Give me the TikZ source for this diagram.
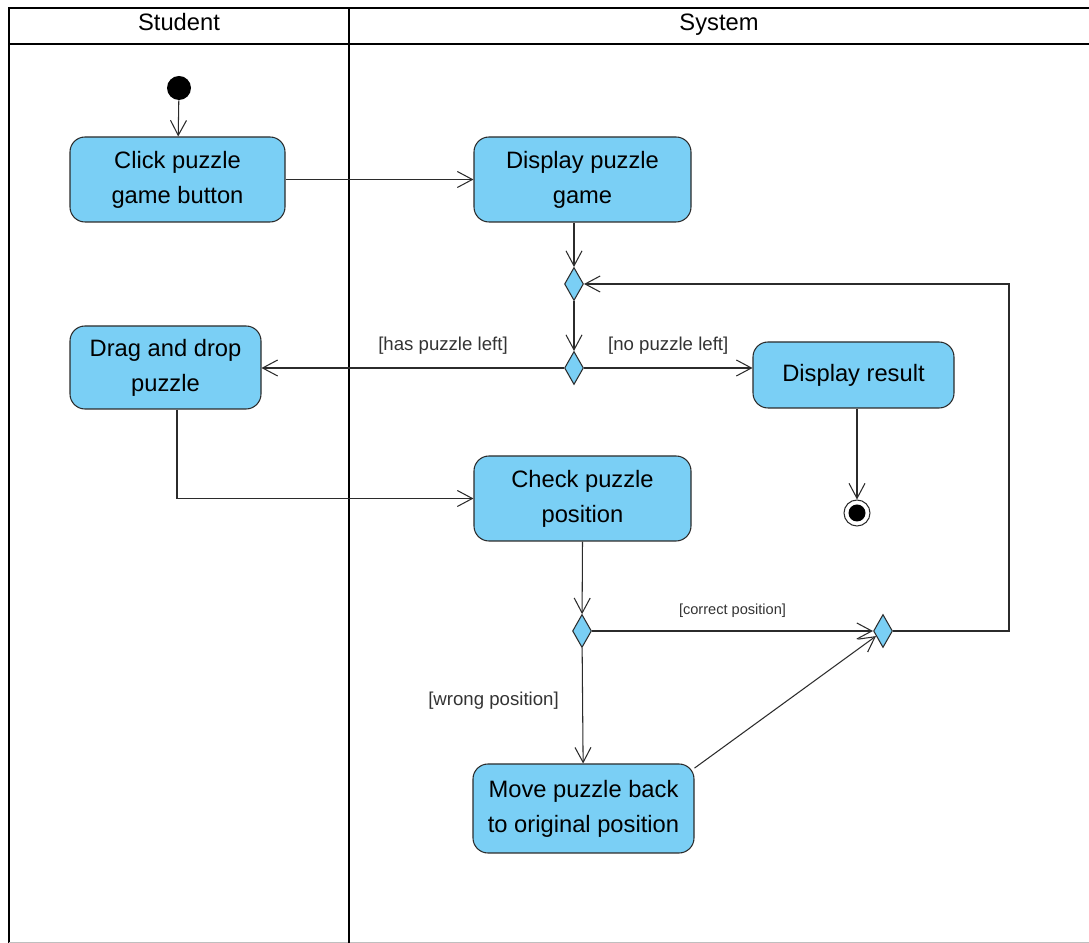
\documentclass[tikz,border=0pt]{standalone}
\usepackage{fontspec}
\setmainfont{Liberation Sans}
\usetikzlibrary{arrows.meta,shapes.geometric,positioning}
\definecolor{actblue}{HTML}{7ACFF5}
\definecolor{actline}{HTML}{2B2B2B}

\begin{document}
\begin{tikzpicture}[
  >={Straight Barb[length=3mm,width=3.2mm]},
  action/.style={draw=actline, fill=actblue, rounded corners=3mm, line width=0.6pt,
    align=center, inner sep=2pt, font=\fontsize{13.5}{20}\selectfont},
  branch/.style={diamond, draw=actline, fill=actblue, line width=0.6pt,
    minimum width=3.8mm, minimum height=6.6mm, inner sep=0pt},
  flow/.style={->, line width=0.6pt, actline},
  guard/.style={font=\fontsize{10.6}{12}\selectfont, text=black!80},
  lane/.style={line width=1.1pt},
  lanetitle/.style={font=\fontsize{13.5}{16}\selectfont, text height=1.6ex, text depth=0.5ex}
]
\useasboundingbox (0,0) rectangle (21.78,-18.86);
% swimlanes
\draw[lane] (0.18,-18.9) -- (0.18,-0.16) -- (21.9,-0.16);
\draw[lane] (0.18,-0.88) -- (21.9,-0.88);
\draw[black!25] (0.18,-18.84) -- (21.9,-18.84);
\draw[line width=1.7pt] (6.98,-0.16) -- (6.98,-18.9);
\node[lanetitle] (student) at (3.58,-0.5) {Student};
\node[lanetitle] (system) at (14.38,-0.5) {System};

% activities
\node[circle, fill=black, minimum size=4.8mm, inner sep=0pt] (start) at (3.58,-1.76) {};
\node[action, minimum width=4.3cm, minimum height=1.7cm] (click) at (3.55,-3.59)
  {Click puzzle\\game button};
\node[action, minimum width=4.34cm, minimum height=1.7cm] (display) at (11.65,-3.59)
  {Display puzzle\\game};
\node[branch] (merge1) at (11.48,-5.68) {};
\node[branch] (choice1) at (11.48,-7.36) {};
\node[action, minimum width=3.82cm, minimum height=1.66cm] (drag) at (3.31,-7.35)
  {Drag and drop\\puzzle};
\node[action, minimum width=4.02cm, minimum height=1.32cm] (result) at (17.07,-7.5)
  {Display result};
\node[circle, draw=actline, line width=0.6pt, minimum size=5.2mm, inner sep=0pt] (stop)
  at (17.14,-10.26) {};
\fill (stop.center) circle (1.7mm);
\node[action, minimum width=4.34cm, minimum height=1.7cm] (check) at (11.65,-9.97)
  {Check puzzle\\position};
\node[branch] (choice2) at (11.64,-12.62) {};
\node[branch] (merge2) at (17.66,-12.62) {};
\node[action, minimum width=4.42cm, minimum height=1.78cm] (move) at (11.67,-16.17)
  {Move puzzle back\\to original position};

% transitions
\draw[flow] (start) -- (click);
\draw[flow] (click) -- (display);
\draw[flow] (merge1 |- display.south) -- (merge1);
\draw[flow] (merge1) -- (choice1);
\draw[flow] (choice1) -- node[guard, above=1.5mm, pos=0.4] {[has puzzle left]}
  (choice1 -| drag.east);
\draw[flow] (choice1) -- node[guard, above=1.5mm] {[no puzzle left]}
  (choice1 -| result.west);
\draw[flow] (result.south -| stop) -- (stop);
\draw[flow] ([xshift=2.3mm]drag.south) |- (check);
\draw[flow] (check.south) -- (choice2);
\draw[flow] (choice2) -- node[guard, font=\fontsize{8.3}{10}\selectfont, above=1.5mm]
  {[correct position]} (merge2);
\draw[flow] (choice2) -- node[guard, left=3.5mm, yshift=1mm] {[wrong position]} (move);
\draw[flow] (move.20) -- (merge2);
\coordinate (loopback) at (20.18,-12.62);
\draw[flow] (merge2) -- (loopback) |- (merge1);
\end{tikzpicture}
\end{document}
